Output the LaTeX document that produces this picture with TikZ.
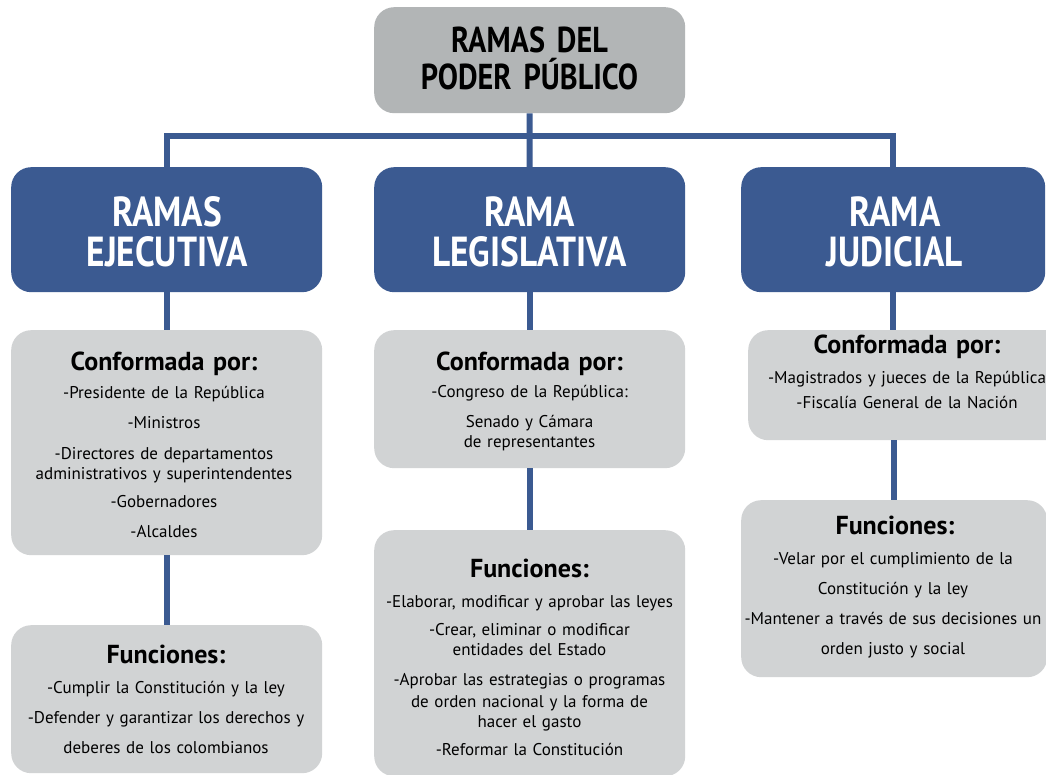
\documentclass[tikz,border=0pt]{standalone}
\usepackage{fontspec}
\setmainfont{PT Sans}
\newfontfamily\condfont{PT Sans}[FakeStretch=0.84]
\definecolor{bluebox}{HTML}{3B5A91}
\definecolor{topgray}{HTML}{B2B5B6}
\definecolor{lightgray}{HTML}{D1D3D4}
\newcommand\setsp[1]{\spaceskip #1\relax}
\tikzset{
  box/.style={rectangle, rounded corners=20pt, inner sep=0pt, anchor=north west, draw=none},
  topbox/.style={box, fill=topgray},
  bluenode/.style={box, fill=bluebox},
  graybox/.style={box, fill=lightgray},
  conn/.style={draw=bluebox, line width=6pt},
  toptext/.style={anchor=base, align=center, text width=300pt, inner sep=0pt, font={\condfont\fontsize{36}{37}\selectfont\bfseries\setsp{7pt}}},
  bluetext/.style={anchor=base, align=center, text width=300pt, inner sep=0pt, text=white, font={\condfont\fontsize{42}{40}\selectfont\bfseries}},
  headtext/.style={anchor=base, align=center, text width=300pt, inner sep=0pt, font={\fontsize{26}{28}\selectfont\bfseries\setsp{5pt}}},
  bodytext/.style={anchor=base, align=center, text width=320pt, inner sep=0pt, font={\fontsize{17}{20}\selectfont\setsp{3.8pt}}},
}
\begin{document}
\begin{tikzpicture}[x=1pt,y=-1pt]
\clip (0,0) rectangle (1046,775);
\fill[white] (0,0) rectangle (1046,775);
% boxes
\node[topbox, minimum width=311pt, minimum height=106pt] (top) at (374,7) {};
\node[bluenode, minimum width=311pt, minimum height=125pt] (bL) at (11,167) {};
\node[bluenode, minimum width=311pt, minimum height=125pt] (bM) at (374,167) {};
\node[bluenode, minimum width=304pt, minimum height=125pt] (bR) at (741,167) {};
\node[graybox, minimum width=311pt, minimum height=225pt] (L1) at (11,330) {};
\node[graybox, minimum width=311pt, minimum height=148pt] (L2) at (11,625) {};
\node[graybox, minimum width=311pt, minimum height=138pt] (M1) at (374,330) {};
\node[graybox, minimum width=311pt, minimum height=246pt] (M2) at (374,530) {};
\node[graybox, minimum width=320pt, minimum height=110pt] (R1) at (748,330) {};
\node[graybox, minimum width=306pt, minimum height=177pt] (R2) at (741,500) {};
% connectors
\coordinate (bus) at (529.5,136);
\draw[conn] (top.south) -- (bus);
\draw[conn] (bL.north) |- (bus) -| (bR.north);
\draw[conn] (bus) -- (bM.north);
\draw[conn] (bL.south) -- (L1.north);
\draw[conn] (L1.south) -- (L2.north);
\draw[conn] (bM.south) -- (M1.north);
\draw[conn] (M1.south) -- (M2.north);
\draw[conn] (bR.south) -- (bR.south |- R1.north);
\draw[conn] (R2.north |- R1.south) -- (R2.north);
% texts
\node[toptext] (ttop) at (529.5,53) {RAMAS DEL\\PODER PÚBLICO};
\node[bluetext] (tL) at (167,227) {RAMAS\\EJECUTIVA};
\node[bluetext] (tM) at (529.5,227) {RAMA\\LEGISLATIVA};
\node[bluetext] (tR) at (895,227) {RAMA\\JUDICIAL};
% left
\node[headtext] (hL1) at (164,370) {Conformada por:};
\node[bodytext] (xL1) at (164,398) {-Presidente de la República\\[10pt]-Ministros\\[11pt]-Directores de departamentos\\administrativos y superintendentes\\[8pt]-Gobernadores\\[10pt]-Alcaldes};
\node[headtext] (hL2) at (166,663) {Funciones:};
\node[bodytext] (xL2) at (166,693) {-Cumplir la Constitución y la ley\\[10pt]-Defender y garantizar los derechos y\\[10pt]deberes de los colombianos};
% middle
\node[headtext] (hM1) at (529.5,370) {Conformada por:};
\node[bodytext] (xM1) at (529.5,397) {-Congreso de la República:\\[10pt]Senado y Cámara\\de representantes};
\node[headtext] (hM2) at (529.5,577) {Funciones:};
\node[bodytext] (xM2) at (529.5,607) {-Elaborar, modificar y aprobar las leyes\\[8pt]-Crear, eliminar o modificar\\entidades del Estado\\[10pt]-Aprobar las estrategias o programas\\[2pt]de orden nacional y la forma de\\hacer el gasto\\[8pt]-Reformar la Constitución};
% right
\node[headtext] (hR1) at (907,353) {Conformada por:};
\node[bodytext] (xR1) at (907,383) {-Magistrados y jueces de la República\\[5pt]-Fiscalía General de la Nación};
\node[headtext] (hR2) at (895,534) {Funciones:};
\node[bodytext] (xR2) at (893,564) {-Velar por el cumplimiento de la\\[10pt]Constitución y la ley\\[10pt]-Mantener a través de sus decisiones un\\[10pt]orden justo y social};
\end{tikzpicture}
\end{document}
